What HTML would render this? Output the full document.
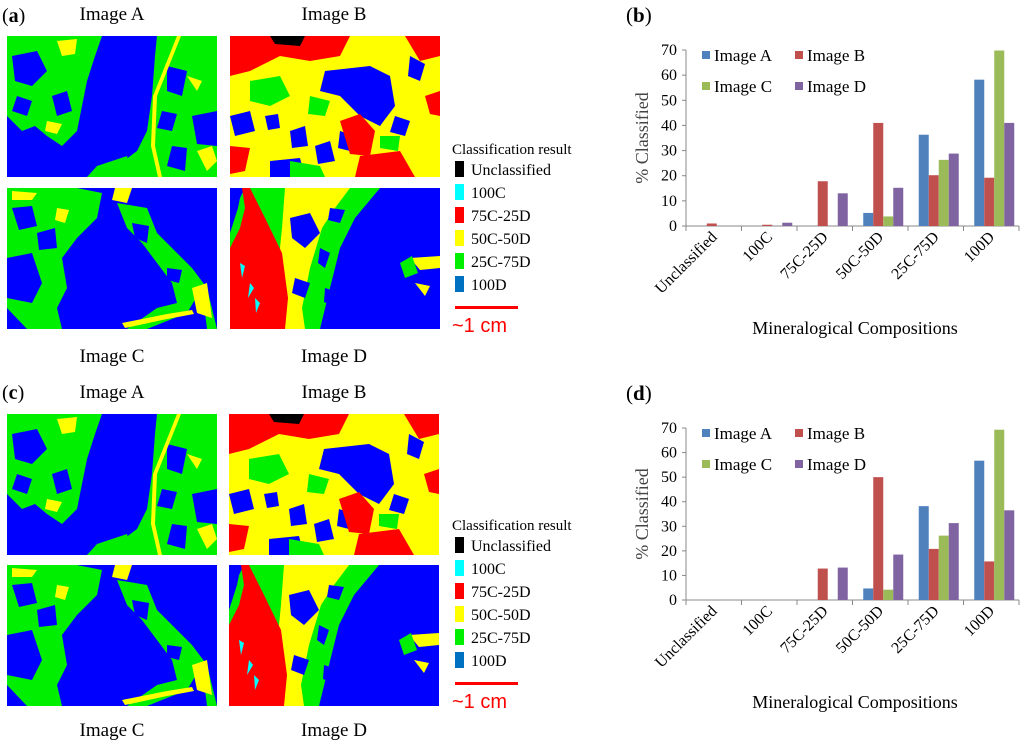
<!DOCTYPE html>
<html><head><meta charset="utf-8"><style>
html,body{margin:0;padding:0;background:#fff;}
svg{display:block;font-family:"Liberation Serif",serif;}
</style></head><body>
<svg id="fig" width="1024" height="740" viewBox="0 0 1024 740" xmlns="http://www.w3.org/2000/svg">
<defs>
<g id="mapA">
<rect width="210" height="141" fill="#0000ff"/>
<path d="M0,0 H95 L88,20 L80,45 L75,70 L70,95 L55,110 L40,100 L28,90 L15,95 L0,80 Z" fill="#00ee00"/>
<path d="M5,20 L30,15 L40,35 L25,50 L8,45 Z M45,60 L60,55 L65,75 L50,80 Z M10,60 L25,65 L20,80 L5,75Z" fill="#0000ff"/>
<path d="M50,5 L70,3 L68,18 L55,20Z M40,85 L55,88 L50,98 L38,95Z" fill="#ffff00"/>
<path d="M150,0 H210 V141 H120 L110,130 L130,115 L140,95 L145,60 L148,20 Z" fill="#00ee00"/>
<path d="M160,30 L180,35 L175,60 L160,55Z M155,75 L170,78 L165,95 L150,92Z M185,80 L210,75 V110 L190,108Z M165,110 L180,112 L178,135 L160,130Z" fill="#0000ff"/>
<path d="M170,0 L174,0 L150,60 L148,110 L155,141 L151,141 L144,110 L146,60 Z" fill="#ffff00"/>
<path d="M190,115 L205,110 L210,125 L200,135Z M180,40 L195,45 L190,55Z" fill="#ffff00"/>
<path d="M90,130 L120,120 L125,141 L80,141Z" fill="#00ee00"/>
</g>
<g id="mapB">
<rect width="210" height="141" fill="#ffff00"/>
<path d="M0,0 H120 L110,20 L80,25 L50,20 L20,35 L0,40 Z" fill="#ff0000"/>
<path d="M175,0 H210 V20 L190,25 Z M195,60 L210,55 V80 L200,78Z" fill="#ff0000"/>
<path d="M40,0 L75,0 L70,10 L45,8Z" fill="#000"/>
<path d="M95,35 L140,30 L160,40 L165,70 L150,90 L130,80 L110,60 L90,55 Z" fill="#0000ff"/>
<path d="M0,80 L20,75 L25,95 L5,100Z M35,80 L48,78 L50,92 L38,94Z M60,95 L75,90 L78,110 L62,112Z M85,110 L100,105 L105,125 L88,128Z M40,125 L70,122 L75,141 L40,141Z M110,95 L125,100 L120,115 L108,112Z M165,80 L180,85 L175,100 L160,96Z M180,20 L195,28 L190,45 L178,40Z" fill="#0000ff"/>
<path d="M110,85 L130,78 L145,95 L140,120 L120,118 Z M130,120 L170,115 L185,141 H125Z M0,110 L20,112 L15,135 L0,138Z" fill="#ff0000"/>
<path d="M20,45 L50,40 L60,60 L40,70 L20,65Z M80,60 L100,65 L95,80 L78,78Z M150,100 L170,100 L168,115 L150,112Z M60,125 L90,130 L95,141 L60,141Z" fill="#00ee00"/>
</g>
<g id="mapC">
<rect width="210" height="141" fill="#0000ff"/>
<path d="M0,0 H70 L95,5 L90,30 L70,50 L55,70 L60,100 L50,120 L55,141 H20 L0,120 Z" fill="#00ee00"/>
<path d="M5,20 L25,18 L30,38 L12,42 Z M30,45 L48,40 L50,60 L32,62Z M0,70 L25,65 L35,95 L25,115 L0,110 Z" fill="#0000ff"/>
<path d="M108,0 L125,0 L120,15 L105,12Z M5,3 L30,5 L25,12 L5,12Z M50,20 L62,22 L58,35 L48,32Z" fill="#ffff00"/>
<path d="M110,15 L140,20 L150,45 L165,60 L185,80 L200,100 L210,141 H120 L150,120 L170,115 L165,95 L150,75 L135,55 L120,40Z" fill="#00ee00"/>
<path d="M125,35 L142,38 L140,55 L128,50Z M160,80 L175,82 L172,95 L160,92Z M140,141 L180,125 L195,100 L200,141Z" fill="#0000ff"/>
<path d="M115,135 L160,126 L185,122 L187,126 L160,131 L118,140Z M185,100 L200,95 L205,130 L190,125Z" fill="#ffff00"/>
</g>
<g id="mapD">
<rect width="210" height="141" fill="#0000ff"/>
<path d="M15,0 H150 L125,30 L110,60 L100,100 L90,141 H0 V30 Z" fill="#00ee00"/>
<path d="M55,0 H120 L105,20 L92,40 L80,80 L72,120 L75,141 H45 L48,80 L52,40 Z" fill="#ffff00"/>
<path d="M60,30 L80,25 L90,45 L75,60 L62,50Z M90,60 L100,65 L95,80 L88,75Z M100,20 L115,22 L110,35 L98,32Z M65,90 L80,95 L75,110 L62,105Z M95,100 L108,104 L104,118 L94,114Z" fill="#0000ff"/>
<path d="M12,0 L20,0 L35,30 L52,65 L58,110 L55,141 H0 V60 L10,40 L15,20 Z" fill="#ff0000"/>
<path d="M0,0 H12 L8,20 L0,45Z" fill="#0000ff"/>
<path d="M10,75 L15,78 L12,90Z M20,95 L24,100 L18,110Z M25,110 L30,115 L26,125Z" fill="#00ffff"/>
<path d="M180,70 L210,68 V80 L190,82Z M185,95 L200,98 L195,108Z" fill="#ffff00"/>
<path d="M170,75 L182,68 L188,85 L175,90Z" fill="#00ee00"/>
</g>
</defs>

<g>
<text x="2" y="22" font-size="20">(<tspan font-weight="bold">a</tspan>)</text>
<text x="112" y="20" font-size="19" text-anchor="middle">Image A</text>
<text x="334" y="20" font-size="19" text-anchor="middle">Image B</text>
<use href="#mapA" x="7" y="36"/>
<use href="#mapB" x="230" y="36"/>
<use href="#mapC" x="7" y="188"/>
<use href="#mapD" x="230" y="188"/>
<text x="112" y="362" font-size="19" text-anchor="middle">Image C</text>
<text x="334" y="362" font-size="19" text-anchor="middle">Image D</text>
</g>
<g>
<text x="2" y="399" font-size="20">(<tspan font-weight="bold">c</tspan>)</text>
<text x="112" y="398" font-size="19" text-anchor="middle">Image A</text>
<text x="334" y="398" font-size="19" text-anchor="middle">Image B</text>
<use href="#mapA" x="7" y="414"/>
<use href="#mapB" x="229" y="414"/>
<use href="#mapC" x="7" y="565"/>
<use href="#mapD" x="229" y="565"/>
<text x="112" y="736" font-size="19" text-anchor="middle">Image C</text>
<text x="334" y="736" font-size="19" text-anchor="middle">Image D</text>
</g>
<g id="legends"></g>

<g id="chartB"></g>
<g id="chartD"></g>
</svg>
<script>
const categories = ["Unclassified","100C","75C-25D","50C-50D","25C-75D","100D"];
const seriesNames = ["Image A","Image B","Image C","Image D"];
const seriesColors = ["#4f81bd","#c0504d","#9bbb59","#8064a2"];
const yTicks = [0,10,20,30,40,50,60,70];
const bImageA = [0,0,0,5.2,36.3,58.2];
const bImageB = [1,0.5,17.8,41,20.2,19.2];
const bImageC = [0,0,0,3.8,26.3,69.8];
const bImageD = [0,1.3,13,15.2,28.8,41];
const dImageA = [0,0,0,4.7,38.2,56.7];
const dImageB = [0,0,12.8,50,20.8,15.7];
const dImageC = [0,0,0,4.2,26.2,69.3];
const dImageD = [0,0,13.2,18.5,31.3,36.5];
const legendClasses = ["Unclassified","100C","75C-25D","50C-50D","25C-75D","100D"];
const legendColors = ["#000000","#00ffff","#ff0000","#ffff00","#00ee00","#0070c0"];

const NS="http://www.w3.org/2000/svg";
function mk(tag, attrs, parent){const e=document.createElementNS(NS,tag);for(const k in attrs)e.setAttribute(k,attrs[k]);parent.appendChild(e);return e;}

const lg=document.getElementById('legends');
[0,376].forEach((off,li)=>{
  const t=mk('text',{x:452,y:154+off,'font-size':15},lg);
  t.textContent="Classification result";
  
  
  legendClasses.forEach((c,i)=>{
    const y=161+off+i*23;
    const r=mk('rect',{x:455,y:y,width:9,height:16,fill:legendColors[i]},lg);
    
    
    const tt=mk('text',{x:471,y:y+14,'font-size':16},lg);
    tt.textContent=c;
    
    
  });
  const ln=mk('rect',{x:455,y:306+off,width:63,height:3,fill:'#ff0000'},lg);
  
  
  const st=mk('text',{x:452,y:332+off,'font-size':20,fill:'#ff0000','font-family':'Liberation Sans, sans-serif'},lg);
  st.textContent="~1 cm";
  
  
});

function drawChart(g, label, data, y0, y70, titleY){
  const x0=686, x1=1019;
  const yScale=v=>y0-(v/70)*(y0-y70);
  const cw=(x1-x0)/categories.length;
  const xc=i=>x0+(i+0.5)*cw;
  const pl=mk('text',{x:626,y:titleY,'font-size':21},g);
  pl.innerHTML='(<tspan font-weight="bold">'+label+'</tspan>)';
  
  
  const ya=mk('line',{x1:x0,y1:y70,x2:x0,y2:y0,stroke:'#888','stroke-width':1},g);
  
  
  const xa=mk('line',{x1:x0-4,y1:y0,x2:x1,y2:y0,stroke:'#888','stroke-width':1},g);
  
  
  yTicks.forEach(v=>{
    const y=yScale(v);
    mk('line',{x1:x0-4,y1:y,x2:x0,y2:y,stroke:'#888'},g);
    const t=mk('text',{x:677,y:y+5,'font-size':16,'text-anchor':'end'},g);
    t.textContent=v;
    
    
  });
  for(let i=0;i<=categories.length;i++){
    const x=x0+i*cw;
    mk('line',{x1:x,y1:y0,x2:x,y2:y0+5,stroke:'#888'},g);
  }
  categories.forEach((c,i)=>{
    const t=mk('text',{'font-size':16,'text-anchor':'end',transform:`translate(${xc(i)+4},${y0+12}) rotate(-45)`},g);
    t.textContent=c;
    
    
  });
  data.forEach((arr,s)=>{
    arr.forEach((v,i)=>{
      if(v<=0) return;
      const y=yScale(v);
      const r=mk('rect',{x:xc(i)-17+s*10,y:y,width:10,height:y0-y,fill:seriesColors[s]},g);
      
      
    });
  });
  seriesNames.forEach((n,s)=>{
    const lx=702+(s%2)*93, ly=y70+5+Math.floor(s/2)*31;
    const r=mk('rect',{x:lx,y:ly-4,width:8,height:8,fill:seriesColors[s]},g);
    
    
    const t=mk('text',{x:lx+12,y:ly+6,'font-size':17},g);
    t.textContent=n;
    
    
  });
  const yt=mk('text',{'font-size':18,fill:'#444','text-anchor':'middle',transform:`translate(648,${(y0+y70)/2}) rotate(-90)`},g);
  yt.textContent="% Classified";
  
  
  const xt=mk('text',{x:855,y:y0+108,'font-size':18,'text-anchor':'middle'},g);
  xt.textContent="Mineralogical Compositions";
  
  
}
drawChart(document.getElementById('chartB'),'b',[bImageA,bImageB,bImageC,bImageD],226,50,22);
drawChart(document.getElementById('chartD'),'d',[dImageA,dImageB,dImageC,dImageD],600,428,400);
</script>
</body></html>
